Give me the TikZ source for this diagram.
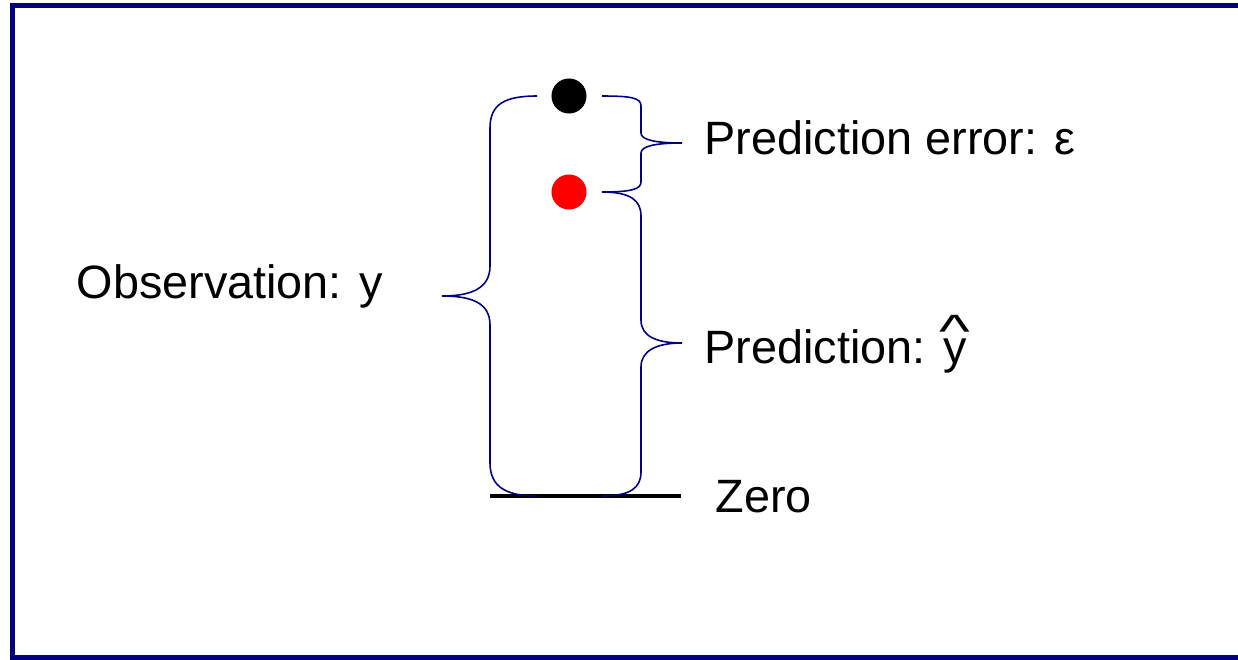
\documentclass[tikz,border=0pt]{standalone}
\usepackage{fontspec}
\usepackage{graphicx}
\setmainfont{Liberation Sans}
\usepackage{tikz}
\usetikzlibrary{positioning}
\definecolor{framecol}{RGB}{0,0,128}
\definecolor{bracecol}{RGB}{0,0,128}
\definecolor{dotred}{RGB}{255,0,0}

\newcommand{\yhat}{\setbox0\hbox{y}\rlap{\hbox to\wd0{\hss\raisebox{4.4pt}{\scalebox{1.4}[1]{\textasciicircum}}\hss}}y}

\begin{document}
\begin{tikzpicture}[x=0.01cm, y=-0.01cm,
  dot/.style={circle, minimum size=0.35cm, inner sep=0pt},
  brace/.style={draw=bracecol, line width=0.45pt},
  label/.style={anchor=base west, inner sep=0pt, font=\fontsize{13.3}{16}\selectfont},
]
\useasboundingbox (0,0) rectangle (1238,660);

% =================== frame ===================
\draw[framecol, line width=1.4pt] (12.5,5.5) rectangle (1250,657.5);

% =================== points ===================
\node[dot, fill=black] (obs) at (569,96) {};
\node[dot, fill=dotred] (pred) at (569,192) {};
\coordinate (zl) at (490,496);
\coordinate (zr) at (681,496);
\draw[black, line width=1.4pt] (zl) -- (zr);

% =================== braces ===================
% observation (left)
\draw[brace] (537,96) .. controls (505,96) and (490,104) .. (490,128) -- (490,266)
  .. controls (490,288) and (472,296) .. (442,296)
  .. controls (472,296) and (490,303) .. (490,325) -- (490,463)
  .. controls (490,488) and (508,496) .. (537,496);
% prediction error (right, small)
\draw[brace] (602,96) .. controls (632,96) and (641,98) .. (641,106) -- (641,133)
  .. controls (641,140) and (656,143) .. (682,143)
  .. controls (656,143) and (641,146) .. (641,153) -- (641,182)
  .. controls (641,189) and (632,192) .. (602,192);
% prediction (right, large)
\draw[brace] (602,192) .. controls (630,192) and (641,200) .. (641,216) -- (641,320)
  .. controls (641,336) and (656,343) .. (682,343)
  .. controls (656,343) and (641,351) .. (641,367) -- (641,472)
  .. controls (641,488) and (630,496) .. (602,496);

% =================== labels ===================
\node[label] (lobs) at (76,298) {Observation: y};
\node[label] (lerr) at (704,154) {Prediction error: ε};
\node[label] (lpred) at (704,363) {Prediction: \yhat};
\node[label] (lzero) at (715,512) {Zero};

\end{tikzpicture}
\end{document}
